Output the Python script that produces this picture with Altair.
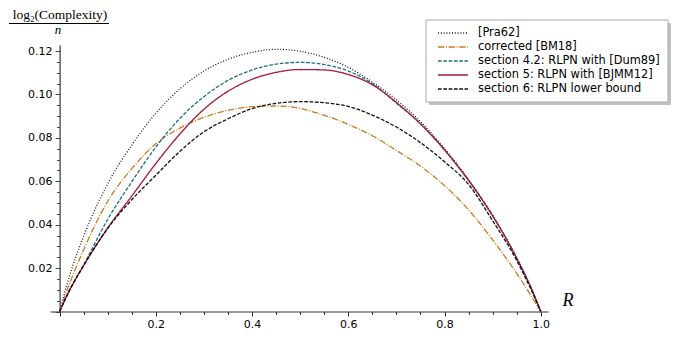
import altair as alt
import pandas as pd

# ---- data ----
R = [0, 0.02, 0.05, 0.1, 0.15, 0.2, 0.25, 0.3, 0.35, 0.4, 0.45, 0.5,
     0.55, 0.6, 0.65, 0.7, 0.75, 0.8, 0.85, 0.9, 0.95, 0.98, 1.0]
pra62 = [0, 0.0160, 0.0347, 0.0589, 0.0767, 0.0914, 0.1026, 0.1108, 0.1162, 0.1194, 0.1208, 0.1199,
         0.1171, 0.1125, 0.1057, 0.0975, 0.0875, 0.0751, 0.0608, 0.0443, 0.0247, 0.0109, 0]
bm18 = [0, 0.0125, 0.0285, 0.0508, 0.0658, 0.0773, 0.0845, 0.0895, 0.0927, 0.0944, 0.0947, 0.0936,
        0.0904, 0.0862, 0.0810, 0.0742, 0.0670, 0.0580, 0.0468, 0.0330, 0.0175, 0.0072, 0]
dum89 = [0, 0.0095, 0.0215, 0.0425, 0.0598, 0.0758, 0.0890, 0.0990, 0.1065, 0.1113, 0.1140, 0.1148,
         0.1138, 0.1108, 0.1050, 0.0960, 0.0866, 0.0746, 0.0605, 0.0442, 0.0246, 0.0108, 0]
bjmm12 = [0, 0.0095, 0.0212, 0.0385, 0.0532, 0.0682, 0.0818, 0.0932, 0.1015, 0.1070, 0.1102, 0.1115,
          0.1113, 0.1092, 0.1045, 0.0963, 0.0864, 0.0744, 0.0603, 0.0440, 0.0245, 0.0107, 0]
lower = [0, 0.0095, 0.0212, 0.0383, 0.0515, 0.0628, 0.0738, 0.0828, 0.0888, 0.0935, 0.0959, 0.0967,
         0.0962, 0.0945, 0.0905, 0.0850, 0.0778, 0.0690, 0.0585, 0.0418, 0.0235, 0.0100, 0]

series_names = ["[Pra62]", "corrected [BM18]", "section 4.2: RLPN with [Dum89]",
                "section 5: RLPN with [BJMM12]", "section 6: RLPN lower bound"]
series_values = [pra62, bm18, dum89, bjmm12, lower]
series_colors = ["#1a1a1a", "#cc7a1e", "#1f6e85", "#a3193b", "#111111"]
series_dashes = [[1, 1.8], [6.4, 1.6, 1, 1.6], [3.7, 1.6], [1, 0], [3.7, 1.6]]

x_ticks = [round(0.05 * i, 2) for i in range(21)]
y_ticks = [round(0.005 * i, 3) for i in range(25)]
y_title_num = "log\u2082(Complexity)"
y_title_den = "n"
x_title = "R"

rows = []
for name, vals in zip(series_names, series_values):
    for r, v in zip(R, vals):
        rows.append({"series": name, "R": r, "value": v})
df = pd.DataFrame(rows)
leg_df = pd.DataFrame({"series": series_names, "idx": list(range(len(series_names)))})

color_scale = alt.Scale(domain=series_names, range=series_colors)
dash_scale = alt.Scale(domain=series_names, range=series_dashes)

x_axis = alt.Axis(
    values=x_ticks, title=None, grid=False,
    labelExpr="datum.value > 0.1 && abs(datum.value*5 - round(datum.value*5)) < 0.001 ? format(datum.value, '.1f') : ''",
    tickSize={"condition": {"test": "abs(datum.value*5 - round(datum.value*5)) < 0.001", "value": 4.5}, "value": 3},
    labelFont="DejaVu Sans", labelFontSize=11, labelColor="#000", labelPadding=2,
    domainColor="#333", domainWidth=1.2, tickColor="#333", tickWidth=1,
    labelOverlap=False, labelFlush=False,
)
y_axis = alt.Axis(
    values=y_ticks, title=None, grid=False, offset=-9.6,
    labelExpr="datum.value > 0.01 && abs(datum.value*50 - round(datum.value*50)) < 0.001 ? format(datum.value, '.2f') : ''",
    tickSize={"condition": {"test": "abs(datum.value*50 - round(datum.value*50)) < 0.001", "value": 4.5}, "value": 3},
    labelFont="DejaVu Sans", labelFontSize=11, labelColor="#000", labelPadding=3,
    domainColor="#444", domainWidth=1.3, tickColor="#444", tickWidth=1,
    labelOverlap=False, labelFlush=False,
)

lines = alt.Chart(df).mark_line(strokeWidth=1.3, interpolate="monotone").encode(
    x=alt.X("R:Q", scale=alt.Scale(domain=[-0.02, 1.015], nice=False, zero=False), axis=x_axis),
    y=alt.Y("value:Q", scale=alt.Scale(domain=[0, 0.1228], nice=False), axis=y_axis),
    color=alt.Color("series:N", scale=color_scale, legend=None),
    strokeDash=alt.StrokeDash("series:N", scale=dash_scale, legend=None),
    detail="series:N",
)

# manual legend (Sage style box with shadow)
one = pd.DataFrame({"a": [0]})
shadow = alt.Chart(one).mark_rect(fill="#9a9a9a", opacity=0.6).encode(
    x=alt.value(379), x2=alt.value(621), y=alt.value(-22), y2=alt.value(60))
box = alt.Chart(one).mark_rect(fill="white", stroke="#aaaaaa", strokeWidth=1).encode(
    x=alt.value(376), x2=alt.value(618), y=alt.value(-25), y2=alt.value(57))
leg_y = alt.Y("idx:Q", scale=alt.Scale(domain=[0, 4], range=[-12, 44]), axis=None)
leg_lines = alt.Chart(leg_df).mark_rule(strokeWidth=1.4).encode(
    x=alt.value(388), x2=alt.value(418), y=leg_y,
    color=alt.Color("series:N", scale=color_scale, legend=None),
    strokeDash=alt.StrokeDash("series:N", scale=dash_scale, legend=None),
)
leg_text = alt.Chart(leg_df).mark_text(align="left", baseline="middle", font="DejaVu Sans",
                                       fontSize=11.4, color="#000").encode(
    x=alt.value(428), y=leg_y, text="series:N")

# axis titles
num = alt.Chart(pd.DataFrame({"t": [y_title_num]})).mark_text(
    font="Liberation Serif", fontSize=13.5, align="center", baseline="alphabetic", color="#000").encode(
    x=alt.value(10), y=alt.value(-26), text="t:N")
bar = alt.Chart(one).mark_rule(color="#000", strokeWidth=1).encode(
    x=alt.value(-41), x2=alt.value(59), y=alt.value(-21.5))
den = alt.Chart(pd.DataFrame({"t": [y_title_den]})).mark_text(
    font="Liberation Serif", fontStyle="italic", fontSize=13, align="center", baseline="alphabetic", color="#000").encode(
    x=alt.value(8), y=alt.value(-11.5), text="t:N")
rlab = alt.Chart(pd.DataFrame({"t": [x_title]})).mark_text(
    font="Liberation Serif", fontStyle="italic", fontSize=18, align="center", baseline="middle", color="#000").encode(
    x=alt.value(518), y=alt.value(256), text="t:N")

chart = alt.layer(lines, shadow, box, leg_lines, leg_text, num, bar, den, rlab).resolve_scale(
    y="independent"
).properties(
    width=498, height=266.5,
    autosize=alt.AutoSizeParams(type="none"),
    padding={"left": 42, "top": 37, "right": 125, "bottom": 19.5},
).configure_view(stroke=None)

chart.save("out.html", embed_options={"renderer": "svg", "actions": False})
